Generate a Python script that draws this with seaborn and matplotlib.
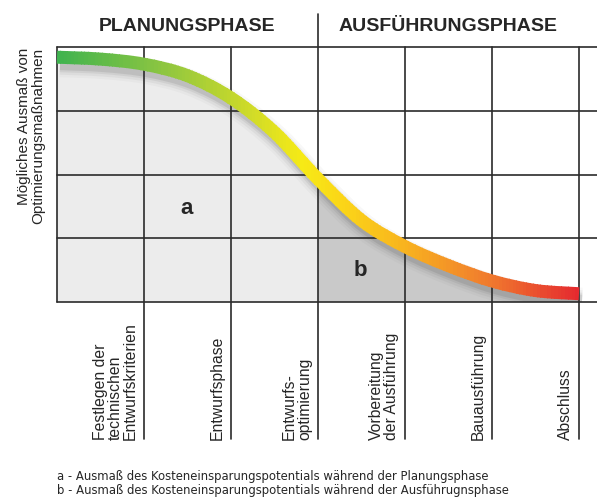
import numpy as np
import seaborn as sns
import matplotlib.pyplot as plt
from matplotlib.patches import PathPatch, Rectangle
from matplotlib.path import Path
from matplotlib.transforms import Affine2D
from matplotlib.colors import LinearSegmentedColormap

# Phasen (Spalten) und Kurvenwerte
phases = ["Festlegen der\ntechnischen\nEntwurfskriterien", "Entwurfsphase",
          "Entwurfs-\noptimierung", "Vorbereitung\nder Ausführung",
          "Bauausführung", "Abschluss"]
headers = ["PLANUNGSPHASE", "AUSFÜHRUNGSPHASE"]
curve_x = [0.0, 0.5, 1.0, 1.5, 2.0, 2.5, 3.0, 3.5, 4.0, 4.5, 5.0, 5.5, 6.0]
curve_y = [3.84, 3.81, 3.73, 3.55, 3.20, 2.66, 1.93, 1.28, 0.87, 0.57,
           0.33, 0.18, 0.13]
footnotes = ["a - Ausmaß des Kosteneinsparungspotentials während der Planungsphase",
             "b - Ausmaß des Kosteneinsparungspotentials während der Ausführugnsphase"]

sns.set_theme(style='white')
plt.rcParams['font.family'] = ['Liberation Sans', 'DejaVu Sans']

W, H = 597, 502
PX_X, PX_Y = 87.0, 63.75  # pixel je Einheit

fig = plt.figure(figsize=(W / 100, H / 100), dpi=100)
ax = fig.add_axes([57 / W, 1 - 303 / H, 540 / W, 255 / H])
ax.set_xlim(0, 540 / PX_X)
ax.set_ylim(0, 4)
ax.axis('off')


def ypx(py):
    return (303 - py) / PX_Y


pts = np.column_stack([np.array(curve_x) * PX_X, np.array(curve_y) * PX_Y])
ext = np.vstack([pts[0], pts, pts[-1]])
verts, codes = [pts[0]], [Path.MOVETO]
for i in range(len(pts) - 1):
    p0, p1, p2, p3 = ext[i], ext[i + 1], ext[i + 2], ext[i + 3]
    verts += [p1 + (p2 - p0) / 6, p2 - (p3 - p1) / 6, p2]
    codes += [Path.CURVE4] * 3
verts = np.array(verts) / [PX_X, PX_Y]
curve = Path(verts, codes)

split = 3 * curve_x.index(3.0) + 1


def area(v, c, x0, x1):
    v = np.vstack([v, [[x1, 0], [x0, 0], [x0, 0]]])
    return Path(v, list(c) + [Path.LINETO, Path.LINETO, Path.CLOSEPOLY])


codes_b = [Path.MOVETO] + codes[split:]
ax.add_patch(PathPatch(area(verts[:split], codes[:split], 0, 3),
                       facecolor='#ececec', lw=0, zorder=1))
ax.add_patch(PathPatch(area(verts[split - 1:], codes_b, 3, 6),
                       facecolor='#c9c9c9', lw=0, zorder=1))

# Raster
gc = '#2b2b2b'
for j in range(5):
    ax.plot([0, 540 / PX_X], [j, j], color=gc, lw=1.2, zorder=2, clip_on=False)
ax.plot([0, 0], [0, 4], color=gc, lw=1.2, zorder=2, clip_on=False)
for i in range(1, 7):
    top = ypx(15) if i == 3 else 4
    ax.plot([i, i], [ypx(440), top], color=gc, lw=1.2, zorder=2, clip_on=False)

# Schatten
shift = ax.transData + Affine2D().translate(3, -7)
for lw, a in [(26, 0.03), (21, 0.05), (16, 0.07), (12, 0.10)]:
    ax.add_patch(PathPatch(curve, fill=False, edgecolor='#303030', lw=lw * 0.72,
                           alpha=a, transform=shift, capstyle='butt', zorder=3))

# Kurve mit Farbverlauf in schmalen Streifen
cmap = LinearSegmentedColormap.from_list('phase', [
    (0.0, '#3fb34f'), (0.2, '#8cc541'), (0.38, '#d3dc27'), (0.47, '#f6ea16'),
    (0.55, '#fbd518'), (0.67, '#f8b21f'), (0.83, '#f07a2e'), (1.0, '#e52a2f')])
nstrip = 150
edges = np.linspace(0, 6, nstrip + 1)
for k in range(nstrip):
    x0 = edges[k] - (0.3 if k == 0 else 0.004)
    x1 = edges[k + 1] + (0.3 if k == nstrip - 1 else 0.004)
    p = PathPatch(curve, fill=False, edgecolor=cmap((k + 0.5) / nstrip),
                  lw=13 * 0.72, capstyle='butt', zorder=4)
    ax.add_patch(p)
    p.set_clip_path(Rectangle((x0, -3), x1 - x0, 10, transform=ax.transData))

# Beschriftungen
ax.text(1.49, ypx(208), 'a', fontsize=16, fontweight='bold', ha='center',
        va='center', zorder=5)
ax.text(3.49, ypx(270), 'b', fontsize=16, fontweight='bold', ha='center',
        va='center', zorder=5)
ax.text(1.5, ypx(26), headers[0], fontsize=14, fontweight='bold',
        ha='center', va='center', clip_on=False)
ax.text((448 - 57) / PX_X, ypx(26), headers[1], fontsize=14,
        fontweight='bold', ha='center', va='center', clip_on=False)

for i, lab in enumerate(phases, start=1):
    ax.text(i - 6 / PX_X, ypx(440), lab, rotation=90, ha='right', va='bottom',
            multialignment='left', fontsize=11.3, linespacing=1.0,
            clip_on=False)

fig.text(45 / W, 1 - 48 / H, 'Mögliches Ausmaß von\nOptimierungsmaßnahmen',
         rotation=90, ha='right', va='top', multialignment='right',
         fontsize=11, linespacing=1.0)

for j, note in enumerate(footnotes):
    fig.text(57 / W, 1 - (477 + 14 * j) / H, note, fontsize=8.4, va='center',
             family='DejaVu Sans')

fig.savefig('out.png', dpi=100)
